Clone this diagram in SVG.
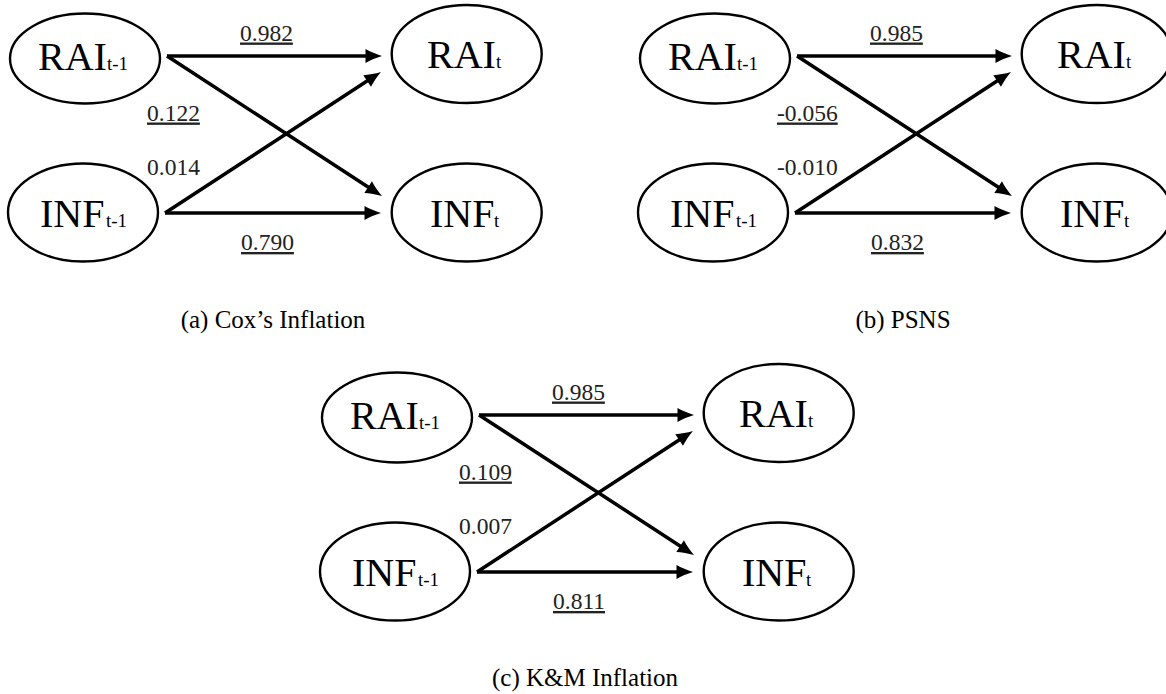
<svg xmlns="http://www.w3.org/2000/svg" width="1166" height="694" viewBox="0 0 1166 694">
  <style>
    .node { fill: #fff; stroke: #000; stroke-width: 2.4; }
    .big { font-family: "Liberation Serif", "DejaVu Serif", serif; font-size: 40px; fill: #000; }
    .sub { font-family: "Liberation Serif", "DejaVu Serif", serif; font-size: 19px; fill: #000; }
    .lbl { font-family: "Liberation Serif", "DejaVu Serif", serif; font-size: 23.5px; fill: #222; }
    .u { text-decoration: underline; }
    .edge { stroke: #000; stroke-width: 3.5; fill: none; marker-end: url(#head); }
    .cap { font-family: "Liberation Serif", "DejaVu Serif", serif; font-size: 25px; fill: #000; text-anchor: middle; }
  </style>
  <defs>
    <marker id="head" markerUnits="userSpaceOnUse" markerWidth="18" markerHeight="14" viewBox="0 0 18 14" refX="11" refY="7" orient="auto" overflow="visible">
      <path d="M18,7 C12.5,5.4 6,2.6 1.5,0 L1.5,14 C6,11.4 12.5,8.6 18,7 Z" fill="#000"/>
    </marker>
  </defs>
  <rect width="1166" height="694" fill="#fff"/>

  <!-- (a) Cox's Inflation -->
  <g id="panel-a">
    <g id="a-edges">
      <line class="edge" x1="167" y1="56" x2="375" y2="56"/>
      <line class="edge" x1="167" y1="56" x2="376.1" y2="192.2"/>
      <line class="edge" x1="165" y1="213" x2="374" y2="213"/>
      <line class="edge" x1="165" y1="213" x2="375.1" y2="75.8"/>
      <text class="lbl u" x="240" y="40.5">0.982</text>
      <text class="lbl u" x="147" y="120.5">0.122</text>
      <text class="lbl" x="147" y="175">0.014</text>
      <text class="lbl u" x="241" y="250">0.790</text>
    </g>
    <g id="a-rai-prev">
      <ellipse class="node" cx="85" cy="58.5" rx="75" ry="45"/>
      <text class="big" x="38" y="70">RAI</text><text class="sub" x="107" y="70">t-1</text>
    </g>
    <g id="a-inf-prev">
      <ellipse class="node" cx="83" cy="212.5" rx="75" ry="49"/>
      <text class="big" x="40" y="227">INF</text><text class="sub" x="106" y="227">t-1</text>
    </g>
    <g id="a-rai-now">
      <ellipse class="node" cx="466.7" cy="54" rx="75" ry="49"/>
      <text class="big" x="427" y="68">RAI</text><text class="sub" x="496" y="68">t</text>
    </g>
    <g id="a-inf-now">
      <ellipse class="node" cx="466.7" cy="212.5" rx="75" ry="49"/>
      <text class="big" x="430" y="227">INF</text><text class="sub" x="494" y="227">t</text>
    </g>
  </g>
  <text id="cap-a" class="cap" x="273" y="328">(a) Cox’s Inflation</text>

  <!-- (b) PSNS -->
  <g id="panel-b" transform="translate(630,0)">
    <g id="b-edges">
      <line class="edge" x1="167" y1="56" x2="375" y2="56"/>
      <line class="edge" x1="167" y1="56" x2="376.1" y2="192.2"/>
      <line class="edge" x1="165" y1="213" x2="374" y2="213"/>
      <line class="edge" x1="165" y1="213" x2="375.1" y2="75.8"/>
      <text class="lbl u" x="240" y="40.5">0.985</text>
      <text class="lbl u" x="147" y="120.5">-0.056</text>
      <text class="lbl" x="147" y="175">-0.010</text>
      <text class="lbl u" x="241" y="250">0.832</text>
    </g>
    <g id="b-rai-prev">
      <ellipse class="node" cx="85" cy="58.5" rx="75" ry="45"/>
      <text class="big" x="38" y="70">RAI</text><text class="sub" x="107" y="70">t-1</text>
    </g>
    <g id="b-inf-prev">
      <ellipse class="node" cx="83" cy="212.5" rx="75" ry="49"/>
      <text class="big" x="40" y="227">INF</text><text class="sub" x="106" y="227">t-1</text>
    </g>
    <g id="b-rai-now">
      <ellipse class="node" cx="466.7" cy="54" rx="75" ry="49"/>
      <text class="big" x="427" y="68">RAI</text><text class="sub" x="496" y="68">t</text>
    </g>
    <g id="b-inf-now">
      <ellipse class="node" cx="466.7" cy="212.5" rx="75" ry="49"/>
      <text class="big" x="430" y="227">INF</text><text class="sub" x="494" y="227">t</text>
    </g>
  </g>
  <text id="cap-b" class="cap" x="903" y="328">(b) PSNS</text>

  <!-- (c) K&M Inflation -->
  <g id="panel-c" transform="translate(312,359)">
    <g id="c-edges">
      <line class="edge" x1="167" y1="56" x2="375" y2="56"/>
      <line class="edge" x1="167" y1="56" x2="376.1" y2="192.2"/>
      <line class="edge" x1="165" y1="213" x2="374" y2="213"/>
      <line class="edge" x1="165" y1="213" x2="375.1" y2="75.8"/>
      <text class="lbl u" x="240" y="40.5">0.985</text>
      <text class="lbl u" x="147" y="120.5">0.109</text>
      <text class="lbl" x="147" y="175">0.007</text>
      <text class="lbl u" x="241" y="250">0.811</text>
    </g>
    <g id="c-rai-prev">
      <ellipse class="node" cx="85" cy="58.5" rx="75" ry="45"/>
      <text class="big" x="38" y="70">RAI</text><text class="sub" x="107" y="70">t-1</text>
    </g>
    <g id="c-inf-prev">
      <ellipse class="node" cx="83" cy="212.5" rx="75" ry="49"/>
      <text class="big" x="40" y="227">INF</text><text class="sub" x="106" y="227">t-1</text>
    </g>
    <g id="c-rai-now">
      <ellipse class="node" cx="466.7" cy="54" rx="75" ry="49"/>
      <text class="big" x="427" y="68">RAI</text><text class="sub" x="496" y="68">t</text>
    </g>
    <g id="c-inf-now">
      <ellipse class="node" cx="466.7" cy="212.5" rx="75" ry="49"/>
      <text class="big" x="430" y="227">INF</text><text class="sub" x="494" y="227">t</text>
    </g>
  </g>
  <text id="cap-c" class="cap" x="585" y="686">(c) K&amp;M Inflation</text>
</svg>
